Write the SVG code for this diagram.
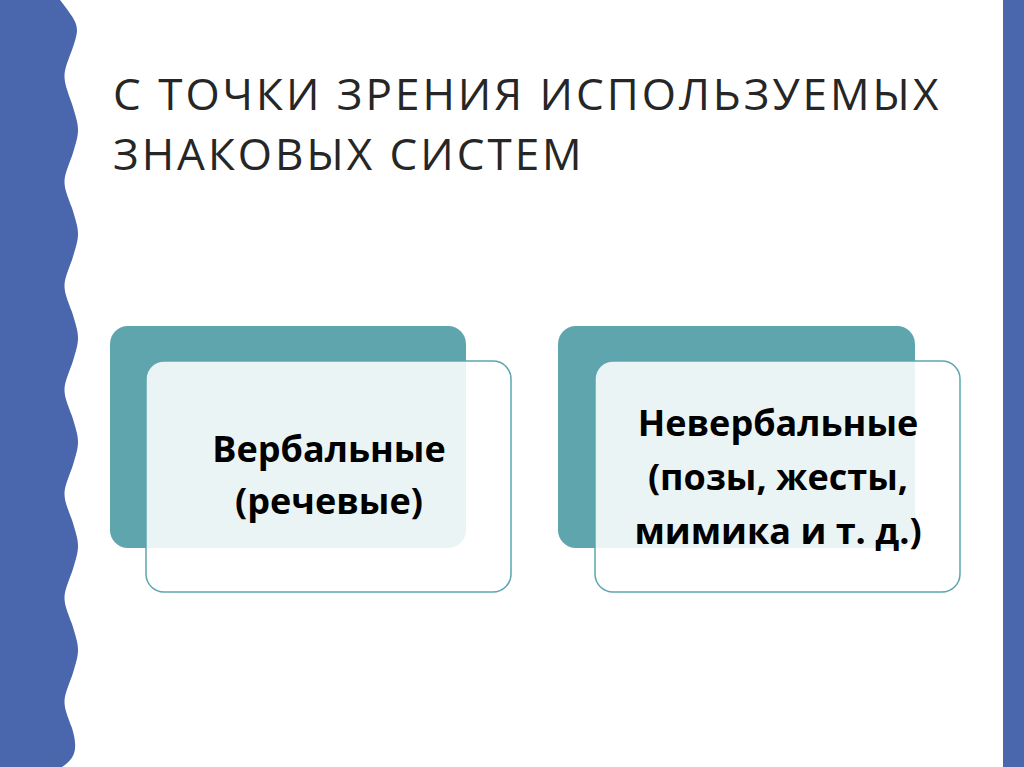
<svg xmlns="http://www.w3.org/2000/svg" width="1024" height="767" viewBox="0 0 1024 767">
<style>
.back{fill:#5ea5ae}
.front{fill:#ffffff;fill-opacity:0.88;stroke:#5ea5ae;stroke-width:1.5}
.t{font-family:"Open Sans","Liberation Sans",sans-serif;font-weight:bold;font-size:36px;fill:#000;text-anchor:middle}
.h{font-family:"Open Sans","Liberation Sans",sans-serif;font-size:44px;fill:#262626;letter-spacing:3px}
</style>
<rect width="1024" height="767" fill="#fff"/>
<path d="M0 0 H60 C80 26 80 26 72 50 C62 76 62 76 72 104 C80 130 80 130 72 156 C62 182 62 182 72 208 C80 234 80 234 72 260 C62 286 62 286 72 312 C80 338 80 338 72 364 C62 390 62 390 72 416 C80 442 80 442 72 468 C62 494 62 494 72 520 C80 546 80 546 72 572 C62 598 62 598 72 624 C80 650 80 650 72 676 C62 702 62 702 72 728 C78 748 76 758 62 767 H0 Z" fill="#4a66ad"/>
<rect x="1003" y="0" width="21" height="767" fill="#4a66ad"/>
<text class="h" x="113" y="110">С ТОЧКИ ЗРЕНИЯ ИСПОЛЬЗУЕМЫХ</text>
<text class="h" x="113" y="170">ЗНАКОВЫХ СИСТЕМ</text>
<g id="node1">
<rect class="back" x="110" y="326" width="356" height="222" rx="18"/>
<rect class="front" x="146" y="361" width="365" height="231" rx="18"/>
<text class="t" x="329" y="462">Вербальные</text>
<text class="t" x="329" y="514">(речевые)</text>
</g>
<g id="node2">
<rect class="back" x="558" y="326" width="357" height="222" rx="18"/>
<rect class="front" x="595" y="361" width="365" height="231" rx="18"/>
<text class="t" x="778" y="436">Невербальные</text>
<text class="t" x="778" y="490">(позы, жесты,</text>
<text class="t" x="778" y="544">мимика и т. д.)</text>
</g>
<g id="connectors"/>
</svg>
